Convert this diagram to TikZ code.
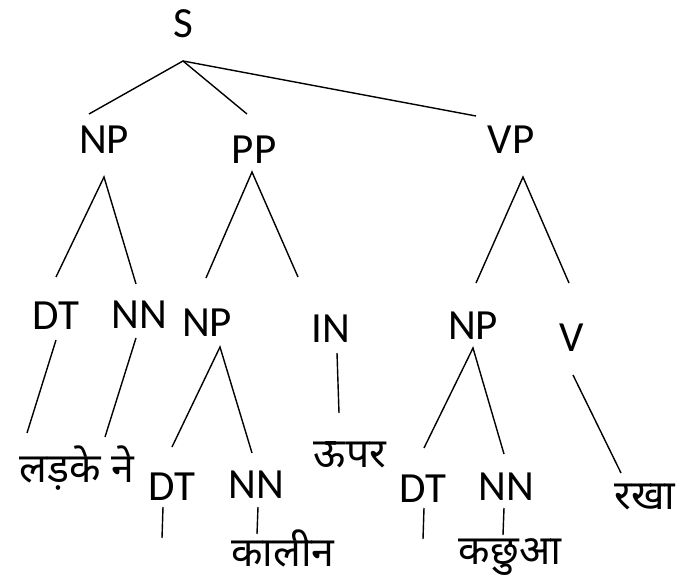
\documentclass[tikz,border=0pt]{standalone}
\usepackage{fontspec}
\setmainfont{Carlito}
\newfontfamily\deva[Script=Devanagari]{Noto Sans}
\begin{document}
\begin{tikzpicture}[x=1pt,y=-1pt,
  lab/.style={inner sep=0pt,anchor=base,font=\fontsize{43}{50}\selectfont},
  hin/.style={inner sep=0pt,anchor=base,font=\deva\fontsize{41}{48}\selectfont},
  edge/.style={line width=1.4pt}]
\useasboundingbox (0,0) rectangle (686,580);
% labels
\node[lab] (S) at (183,38) {S};
\node[lab] (NPa) at (104,154) {NP};
\node[lab] (PP) at (254,164) {PP};
\node[lab] (VP) at (511,154) {VP};
\node[lab] (DTa) at (56,330) {DT};
\node[lab] (NNa) at (139,328) {NN};
\node[lab] (NPb) at (207,337) {NP};
\node[lab] (IN) at (331,343) {IN};
\node[lab] (NPc) at (473,340) {NP};
\node[lab] (V) at (572,352) {V};
\node[lab] (DTb) at (172,500) {DT};
\node[lab] (NNb) at (256,498) {NN};
\node[lab] (DTc) at (423,502) {DT};
\node[lab] (NNc) at (506,500) {NN};
\node[hin] (w1) at (77,482) {लड़के ने};
\node[hin] (w2) at (350,467) {ऊपर};
\node[hin] (w3) at (645,509) {रखा};
\node[hin] (w4) at (283,566) {कालीन};
\node[hin] (w5) at (510,564) {कछुआ};
% connector end points
\coordinate (S-o) at (183,61);
\coordinate (NPa-i) at (89,114);
\coordinate (PP-i) at (247,114);
\coordinate (VP-i) at (476,116);
\coordinate (NPa-o) at (104,177);
\coordinate (DTa-i) at (56,277);
\coordinate (NNa-i) at (136,284);
\coordinate (PP-o) at (252,172);
\coordinate (NPb-i) at (206,278);
\coordinate (IN-i) at (298,277);
\coordinate (VP-o) at (523,177);
\coordinate (NPc-i) at (476,283);
\coordinate (V-i) at (569,283);
\coordinate (DTa-o) at (56,340);
\coordinate (w1-a) at (27,433);
\coordinate (NNa-o) at (136,338);
\coordinate (w1-b) at (105,437);
\coordinate (NPb-o) at (220,347);
\coordinate (DTb-i) at (172,447);
\coordinate (NNb-i) at (252,453);
\coordinate (IN-o) at (337,353);
\coordinate (w2-i) at (339,413);
\coordinate (NPc-o) at (473,348);
\coordinate (DTc-i) at (424,448);
\coordinate (NNc-i) at (504,454);
\coordinate (V-o) at (573,375);
\coordinate (w3-i) at (621,473);
\coordinate (DTb-o) at (163,507);
\coordinate (DTb-e) at (162,538);
\coordinate (NNb-o) at (258,507);
\coordinate (w4-i) at (257,534);
\coordinate (DTc-o) at (424,508);
\coordinate (DTc-e) at (423,539);
\coordinate (NNc-o) at (504,508);
\coordinate (w5-i) at (503,535);
% connectors
\draw[edge] (NPa-i) -- (S-o) -- (PP-i);
\draw[edge] (S-o) -- (VP-i);
\draw[edge] (DTa-i) -- (NPa-o) -- (NNa-i);
\draw[edge] (NPb-i) -- (PP-o) -- (IN-i);
\draw[edge] (NPc-i) -- (VP-o) -- (V-i);
\draw[edge] (DTa-o) -- (w1-a);
\draw[edge] (NNa-o) -- (w1-b);
\draw[edge] (DTb-i) -- (NPb-o) -- (NNb-i);
\draw[edge] (IN-o) -- (w2-i);
\draw[edge] (DTc-i) -- (NPc-o) -- (NNc-i);
\draw[edge] (V-o) -- (w3-i);
\draw[edge] (DTb-o) -- (DTb-e);
\draw[edge] (NNb-o) -- (w4-i);
\draw[edge] (DTc-o) -- (DTc-e);
\draw[edge] (NNc-o) -- (w5-i);
\end{tikzpicture}
\end{document}
